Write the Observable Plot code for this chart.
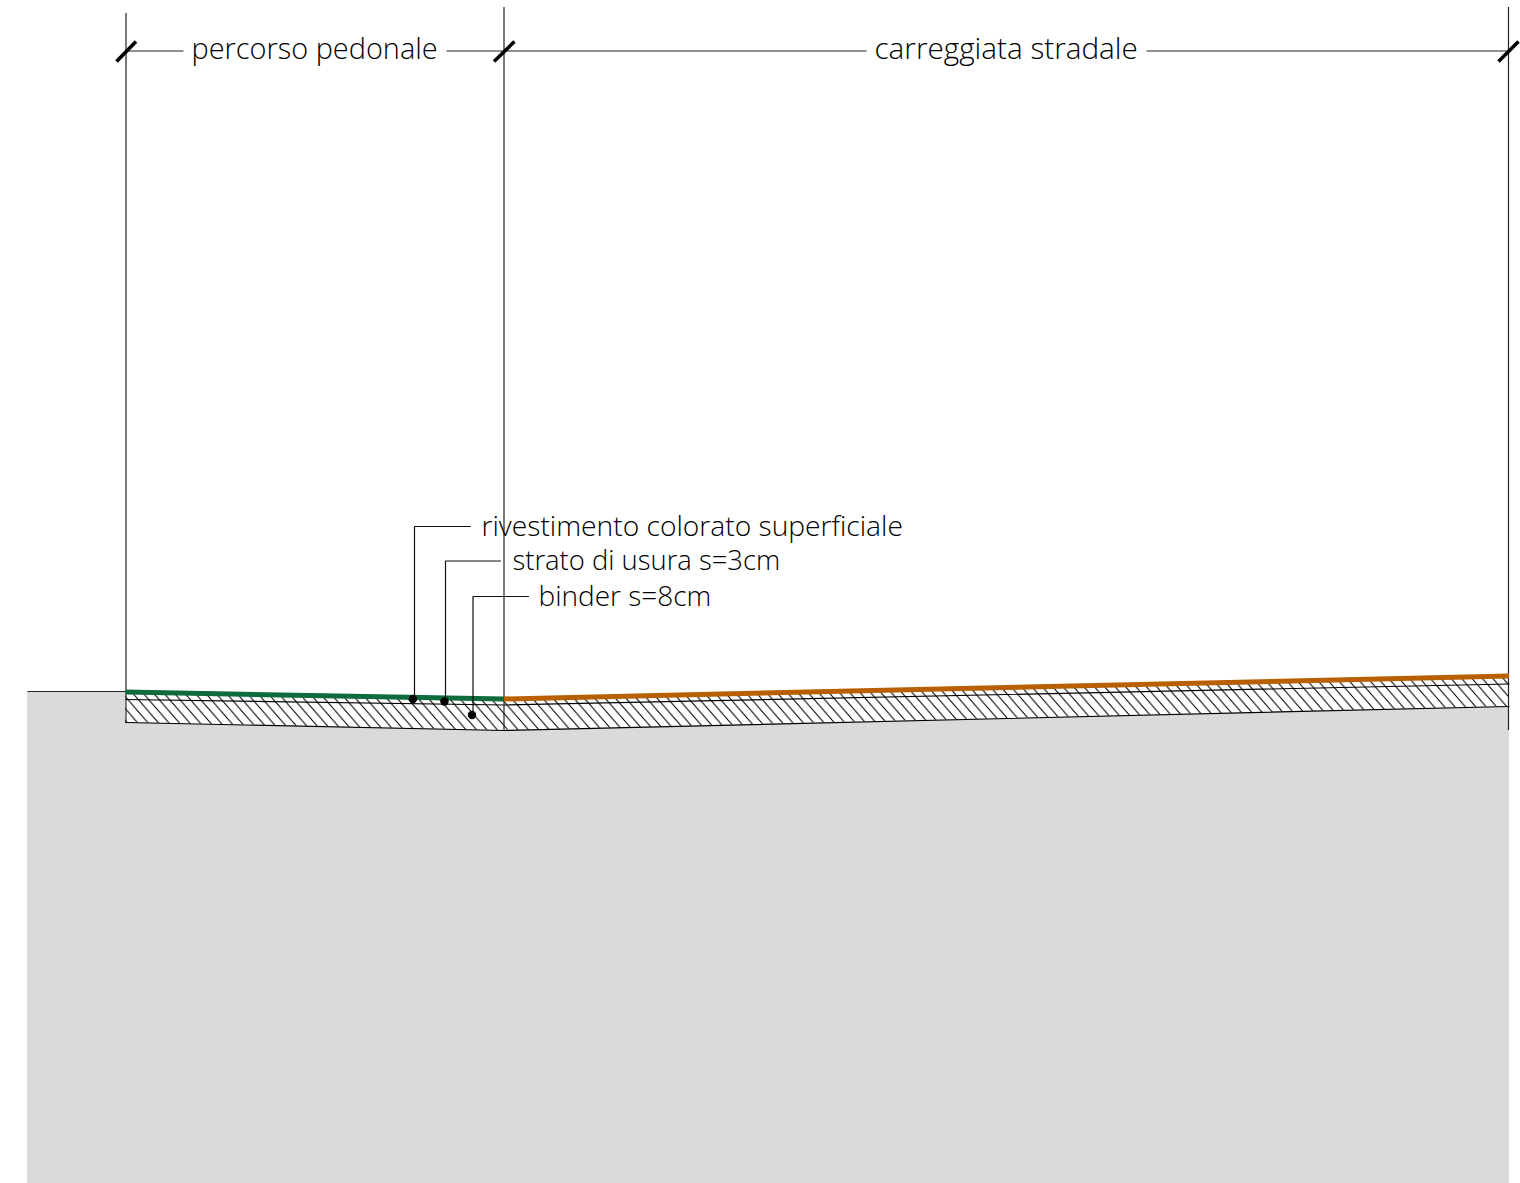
<!DOCTYPE html>
<html><head><meta charset="utf-8">
<script src="https://cdn.jsdelivr.net/npm/d3@7"></script>
<script src="https://cdn.jsdelivr.net/npm/@observablehq/plot@0.6"></script>
<style>html,body{margin:0;padding:0;background:#fff}svg{display:block}</style>
</head><body><div id="chart"></div>
<script>
const stations = [125, 503.5, 1508.5];
const surface = [691.5, 698.5, 675.5];
const layerJoint = [699, 704.5, 683.5];
const layerBase = [722, 730, 706];
const section = stations.map((x, i) => ({x, top: surface[i], joint: layerJoint[i], base: layerBase[i]}));

const ground = [{x1: 27, x2: 1509, y1: 691, y2: 1183}];
const groundEdge = [{x1: 27, x2: 125, y: 691}];
const walls = [{x: 125.5, y1: 13, y2: 722}, {x: 503.5, y1: 7, y2: 730}, {x: 1508, y1: 7, y2: 730}];
const dimensionSegments = [
  {x1: 125, x2: 183}, {x1: 446, x2: 503}, {x1: 503, x2: 866}, {x1: 1146, x2: 1508}
];
const dimensionY = 50.5;
const ticks = [
  {x1: 116, y1: 61, x2: 135.5, y2: 41},
  {x1: 493.5, y1: 61, x2: 514, y2: 41},
  {x1: 1498, y1: 61, x2: 1518, y2: 41}
];
const labelPedonale = {text: "percorso pedonale", x: 191, y: 58};
const labelStradale = {text: "carreggiata stradale", x: 874, y: 58};
const labelRivestimento = {text: "rivestimento colorato superficiale", x: 481, y: 535};
const labelUsura = {text: "strato di usura s=3cm", x: 512, y: 569};
const labelBinder = {text: "binder s=8cm", x: 538, y: 605};
const leaders = [
  [[414, 698], [414, 526], [470, 526]],
  [[445, 701], [445, 560.5], [500, 560.5]],
  [[472.5, 714], [472.5, 596], [528, 596]]
];
const anchors = [[412.5, 698.5], [444, 701], [471.5, 714.5]];

const label = (d, fontSize) => Plot.text([d], {
  x: "x", y: "y", text: "text", fontSize,
  fontFamily: "Open Sans", fontWeight: 300, fill: "#000", textAnchor: "start", lineAnchor: "bottom"
});

const plot = Plot.plot({
  width: 1520, height: 1183, margin: 0,
  x: {domain: [0, 1520], range: [0, 1520], axis: null},
  y: {domain: [0, 1183], range: [0, 1183], axis: null},
  style: {background: "#fff"},
  marks: [
    Plot.rect(ground, {x1: "x1", x2: "x2", y1: "y1", y2: "y2", fill: "#dadada"}),
    Plot.areaY(section, {x: "x", y1: "base", y2: () => 660, fill: "#fff"}),
    Plot.areaY(section, {x: "x", y1: "base", y2: "top", fill: "url(#hatch)"}),
    Plot.link(groundEdge, {x1: "x1", x2: "x2", y1: "y", y2: "y", stroke: "#222", strokeWidth: 1.2}),
    Plot.line(section, {x: "x", y: "joint", stroke: "#000", strokeWidth: 1.2}),
    Plot.line(section, {x: "x", y: "base", stroke: "#000", strokeWidth: 1.2}),
    Plot.ruleX(walls, {x: "x", y1: "y1", y2: "y2", stroke: "#222", strokeWidth: 1.2}),
    Plot.link(dimensionSegments, {x1: "x1", x2: "x2", y1: () => dimensionY, y2: () => dimensionY, stroke: "#222", strokeWidth: 1.1}),
    Plot.link(ticks, {x1: "x1", y1: "y1", x2: "x2", y2: "y2", stroke: "#000", strokeWidth: 3.6}),
    Plot.line(section.slice(0, 2), {x: "x", y: "top", stroke: "#0d6b3c", strokeWidth: 5, strokeLinecap: "butt"}),
    Plot.line(section.slice(1), {x: "x", y: "top", stroke: "#b85f00", strokeWidth: 5, strokeLinecap: "butt"}),
    ...leaders.map(pts => Plot.line(pts, {x: d => d[0], y: d => d[1], stroke: "#111", strokeWidth: 1.2})),
    Plot.dot(anchors, {x: d => d[0], y: d => d[1], r: 4.2, fill: "#000"}),
    label(labelPedonale, 28.9),
    label(labelStradale, 29.7),
    label(labelRivestimento, 28.2),
    label(labelUsura, 27.4),
    label(labelBinder, 28)
  ]
});

// Diagonal hatch used as the fill of the pavement layers
const defs = d3.select(plot).insert("defs", ":first-child");
const pattern = defs.append("pattern")
  .attr("id", "hatch").attr("patternUnits", "userSpaceOnUse")
  .attr("width", 10.4).attr("height", 12);
pattern.append("path")
  .attr("d", "M-10.4,-12L20.8,24M-20.8,-12L10.4,24M0,-12L31.2,24")
  .attr("stroke", "#000").attr("stroke-width", 1.05).attr("fill", "none");

document.getElementById("chart").appendChild(plot);
</script></body></html>
